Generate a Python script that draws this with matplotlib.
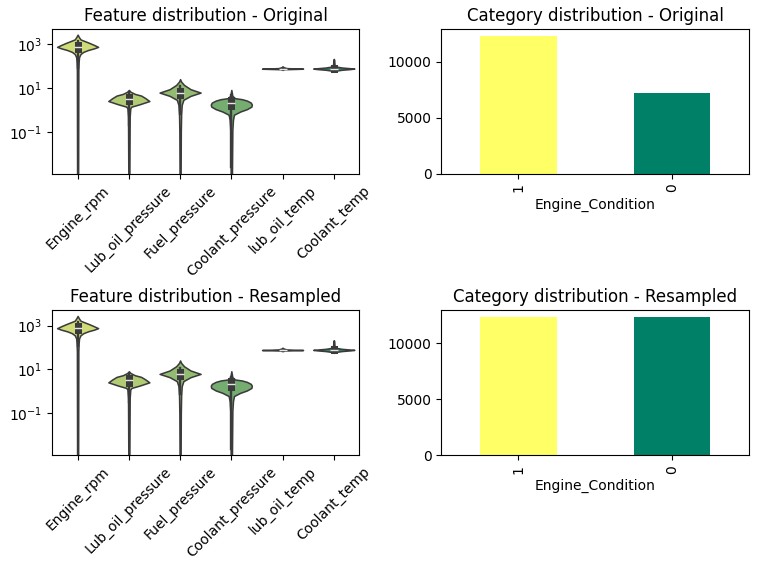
import matplotlib
matplotlib.use("Agg")
import matplotlib.pyplot as plt
import numpy as np
import seaborn as sns

features = ["Engine_rpm", "Lub_oil_pressure", "Fuel_pressure",
            "Coolant_pressure", "lub_oil_temp", "Coolant_temp"]

# violin outlines: value -> relative half width
rpm_y = [2730, 2140, 1660, 1410, 1150, 930, 760, 650, 550, 450, 360, 260, 160, 68, 0.001]
rpm_w = [0, 0.06, 0.14, 0.33, 0.57, 0.8, 1.0, 0.8, 0.52, 0.28, 0.14, 0.07, 0.05, 0.035, 0.025]
lop_y = [8.3, 6.9, 5.5, 4.6, 3.55, 2.6, 1.86, 1.45, 1.23, 0.5, 0.001]
lop_w = [0, 0.08, 0.29, 0.6, 0.8, 1.0, 0.53, 0.13, 0.07, 0.04, 0.025]
fp_y = [25.7, 20, 14.1, 9.0, 6.3, 4.47, 2.95, 1.74, 0.63, 0.1, 0.001]
fp_w = [0, 0.05, 0.19, 0.51, 1.0, 0.51, 0.16, 0.08, 0.05, 0.035, 0.025]
cp_y = [8.3, 4.47, 3.5, 3.16, 2.73, 2.21, 1.82, 1.45, 1.11, 0.87, 0.62, 0.36, 0.126, 0.001]
cp_w = [0, 0.05, 0.18, 0.52, 0.76, 0.95, 1.0, 0.98, 0.76, 0.44, 0.13, 0.08, 0.05, 0.03]
lot_y = [98, 90, 82, 79, 77, 75.5, 73, 68]
lot_w = [0, 0.05, 0.2, 0.6, 1.0, 0.7, 0.1, 0]
ct_y = [215, 195, 130, 105, 95, 87, 81, 78, 74, 69, 63, 57]
ct_w = [0, 0.02, 0.03, 0.05, 0.15, 0.4, 0.8, 1.0, 0.8, 0.4, 0.1, 0]

# box stats (original data)
orig_whislo = [83, 0.21, 0.69, 0.0025, 72.2, 61.7]
orig_q1 = [593, 2.52, 4.92, 1.60, 75.73, 73.90]
orig_med = [746, 3.16, 6.20, 2.17, 76.82, 78.35]
orig_q3 = [934, 4.06, 7.74, 2.85, 78.07, 82.92]
orig_whishi = [1445, 6.37, 11.97, 4.72, 81.6, 96.45]

# box stats (resampled data)
res_whislo = [120, 0.33, 0.75, 0.0025, 76.9, 61.7]
res_q1 = [600, 2.55, 4.95, 1.62, 76.9, 73.7]
res_med = [760, 3.2, 6.25, 2.2, 76.9, 78.2]
res_q3 = [950, 4.1, 7.8, 2.88, 76.9, 82.8]
res_whishi = [1470, 6.4, 12.0, 4.75, 76.9, 96.5]

class_labels = ["1", "0"]
orig_counts = [12317, 7218]
res_counts = [12317, 12317]

outlines = [(rpm_y, rpm_w), (lop_y, lop_w), (fp_y, fp_w),
            (cp_y, cp_w), (lot_y, lot_w), (ct_y, ct_w)]
palette = sns.color_palette("summer_r", 6, desat=0.75)
cmap = plt.get_cmap("summer")
bar_colors = [cmap(1.0), cmap(0.0)]

linecolor = "#3b3b3b"
lw = 1.125
box_w = lw * 4.5


def violins(ax, whislo, q1, med, q3, whishi, title):
    for i, (ys, ws) in enumerate(outlines):
        ys = np.array(ys, dtype=float)
        hw = np.array(ws) * 0.4
        ax.fill_betweenx(ys, i - hw, i + hw, facecolor=palette[i],
                         edgecolor=linecolor, linewidth=lw)
        ax.plot([i, i], [whislo[i], whishi[i]], color=linecolor, lw=box_w / 3)
        ax.plot([i, i], [q1[i], q3[i]], color=linecolor, lw=box_w)
        ax.plot([i], [med[i]], marker="_", color="0.9",
                markersize=box_w, markeredgewidth=box_w / 5)
    ax.set_yscale("log")
    ax.set_ylim(10 ** -2.895, 10 ** 3.695)
    ax.set_xlim(-0.5, 5.5)
    ax.yaxis.set_minor_locator(matplotlib.ticker.NullLocator())
    ax.set_xticks(range(6))
    ax.set_xticklabels(features, rotation=45)
    ax.set_title(title)


def bars(ax, counts, title):
    ax.bar(range(2), counts, width=0.5, color=bar_colors)
    ax.set_xlim(-0.5, 1.5)
    ax.set_xticks(range(2))
    ax.set_xticklabels(class_labels, rotation=90)
    ax.set_xlabel("Engine_Condition")
    ax.set_title(title)


fig, axes = plt.subplots(2, 2, figsize=(7.58, 5.66), dpi=100)
fig.subplots_adjust(left=0.0686, right=0.988, top=0.9488, bottom=0.196,
                    wspace=0.267, hspace=0.943)

violins(axes[0, 0], orig_whislo, orig_q1, orig_med, orig_q3, orig_whishi,
        "Feature distribution - Original")
bars(axes[0, 1], orig_counts, "Category distribution - Original")
violins(axes[1, 0], res_whislo, res_q1, res_med, res_q3, res_whishi,
        "Feature distribution - Resampled")
bars(axes[1, 1], res_counts, "Category distribution - Resampled")

fig.savefig("out.png", dpi=100)
